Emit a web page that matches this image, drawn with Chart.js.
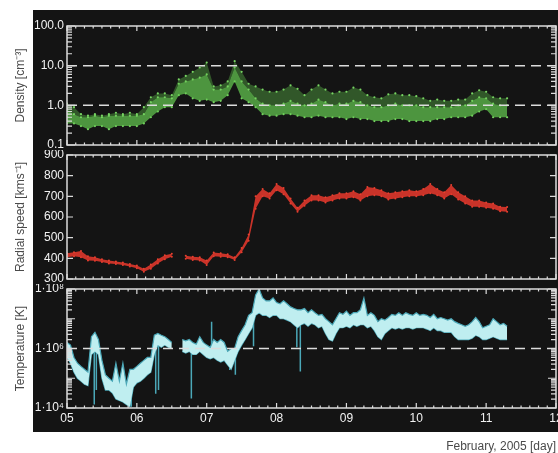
<!DOCTYPE html>
<html lang="en">
<head>
    <meta charset="UTF-8">
    <title>Solar wind, February 2005</title>
    <script src="https://cdn.jsdelivr.net/npm/chart.js"></script>
    <style>
        body {
            margin: 0;
            width: 558px;
            height: 453px;
            position: relative;
            overflow: hidden;
            background: #fff;
        }
        canvas {
            position: absolute;
            left: 0;
        }
        #densityChart { top: 0; }
        #speedChart { top: 150px; }
        #tempChart { top: 284px; }
    </style>
</head>
<body>
    <canvas id="densityChart" width="580" height="150"></canvas>
    <canvas id="speedChart" width="580" height="134"></canvas>
    <canvas id="tempChart" width="580" height="169"></canvas>

    <script>
        // days (February 2005), 0.1 day resolution
        const dayCoarse = [
            5.0, 5.1, 5.2, 5.3, 5.4, 5.5, 5.6, 5.7, 5.8, 5.9,
            6.0, 6.1, 6.2, 6.3, 6.4, 6.5, 6.6, 6.7, 6.8, 6.9,
            7.0, 7.1, 7.2, 7.3, 7.4, 7.5, 7.6, 7.7, 7.8, 7.9,
            8.0, 8.1, 8.2, 8.3, 8.4, 8.5, 8.6, 8.7, 8.8, 8.9,
            9.0, 9.1, 9.2, 9.3, 9.4, 9.5, 9.6, 9.7, 9.8, 9.9,
            10.0, 10.1, 10.2, 10.3, 10.4, 10.5, 10.6, 10.7, 10.8, 10.9,
            11.0, 11.1, 11.2, 11.3
        ];

        // density [cm^-3]: top of the sparse scatter, top of the dense core, bottom
        const densHigh = [
            1.1, 0.9, 0.6, 0.55, 0.6, 0.55, 0.6, 0.65, 0.6, 0.65,
            0.6, 0.9, 1.6, 2.0, 2.0, 1.8, 4.5, 5.5, 7.0, 9.0,
            12, 3.0, 3.2, 4.0, 13, 7.0, 3.5, 3.0, 2.5, 2.2,
            2.2, 2.5, 3.2, 2.6, 1.8, 2.5, 3.2, 2.5, 2.0, 2.2,
            2.2, 2.8, 2.5, 1.8, 1.6, 1.5, 1.9, 2.0, 1.8, 1.8,
            1.7, 1.5, 1.3, 1.4, 1.3, 1.3, 1.4, 1.4, 2.0, 2.4,
            2.2, 1.6, 1.5, 1.5
        ];
        const densCore = [
            0.8, 0.6, 0.5, 0.5, 0.55, 0.5, 0.55, 0.55, 0.55, 0.55,
            0.55, 0.6, 1.2, 1.6, 1.6, 1.5, 3.5, 4.0, 4.5, 5.0,
            6.0, 2.5, 2.5, 3.0, 9.0, 4.0, 2.5, 1.5, 1.1, 1.0,
            1.0, 1.1, 1.3, 1.1, 1.0, 1.1, 1.4, 1.2, 1.0, 1.1,
            1.1, 1.3, 1.2, 1.0, 0.9, 0.9, 1.0, 1.1, 1.0, 1.0,
            1.0, 0.9, 0.9, 0.9, 0.9, 0.9, 1.0, 1.0, 1.3, 1.6,
            1.5, 1.1, 1.0, 1.0
        ];
        const densLow = [
            0.35, 0.35, 0.3, 0.25, 0.3, 0.3, 0.25, 0.3, 0.3, 0.3,
            0.3, 0.35, 0.5, 0.7, 0.9, 0.9, 1.8, 2.0, 1.5, 1.3,
            1.4, 1.2, 1.3, 1.8, 4.0, 1.5, 1.2, 0.9, 0.6, 0.55,
            0.55, 0.6, 0.6, 0.55, 0.5, 0.5, 0.55, 0.5, 0.5, 0.5,
            0.45, 0.5, 0.45, 0.45, 0.4, 0.4, 0.4, 0.45, 0.45, 0.4,
            0.4, 0.4, 0.4, 0.45, 0.45, 0.5, 0.5, 0.5, 0.55, 0.7,
            0.8, 0.5, 0.5, 0.5
        ];

        // radial speed [km/s]
        const speedHigh = [
            425, 430, 435, 410, 405, 395, 390, 385, 380, 372,
            365, 350, 370, 395, 415, 422, null, 412, 408, 405,
            390, 428, 425, 420, 405, 450, 515, 700, 735, 715,
            760, 740, 690, 645, 680, 705, 705, 695, 705, 715,
            715, 725, 710, 745, 740, 730, 715, 720, 725, 730,
            725, 735, 760, 735, 720, 755, 720, 700, 680, 680,
            670, 665, 650, 648
        ];
        const speedLow = [
            405, 410, 405, 390, 388, 382, 375, 372, 368, 360,
            352, 335, 350, 375, 395, 408, null, 398, 392, 390,
            368, 410, 408, 405, 392, 430, 485, 640, 700, 690,
            730, 710, 665, 625, 655, 680, 680, 670, 680, 690,
            690, 695, 680, 700, 705, 700, 685, 690, 695, 700,
            700, 705, 715, 705, 690, 710, 685, 665, 650, 650,
            645, 640, 628, 625
        ];

        // days, 0.05 day resolution (temperature)
        const dayFine = [
            5.00, 5.05, 5.10, 5.15, 5.20, 5.25, 5.30, 5.35, 5.40, 5.45,
            5.50, 5.55, 5.60, 5.65, 5.70, 5.75, 5.80, 5.85, 5.90, 5.95,
            6.00, 6.05, 6.10, 6.15, 6.20, 6.25, 6.30, 6.35, 6.40, 6.45,
            6.50, 6.55, 6.60, 6.65, 6.70, 6.75, 6.80, 6.85, 6.90, 6.95,
            7.00, 7.05, 7.10, 7.15, 7.20, 7.25, 7.30, 7.35, 7.40, 7.45,
            7.50, 7.55, 7.60, 7.65, 7.70, 7.75, 7.80, 7.85, 7.90, 7.95,
            8.00, 8.05, 8.10, 8.15, 8.20, 8.25, 8.30, 8.35, 8.40, 8.45,
            8.50, 8.55, 8.60, 8.65, 8.70, 8.75, 8.80, 8.85, 8.90, 8.95,
            9.00, 9.05, 9.10, 9.15, 9.20, 9.25, 9.30, 9.35, 9.40, 9.45,
            9.50, 9.55, 9.60, 9.65, 9.70, 9.75, 9.80, 9.85, 9.90, 9.95,
            10.00, 10.05, 10.10, 10.15, 10.20, 10.25, 10.30, 10.35, 10.40, 10.45,
            10.50, 10.55, 10.60, 10.65, 10.70, 10.75, 10.80, 10.85, 10.90, 10.95,
            11.00, 11.05, 11.10, 11.15, 11.20, 11.25, 11.30
        ];

        // temperature [K], upper and lower edge of the trace
        const tempHigh = [
            1.6e6, 1.3e6, 5e5, 3.2e5, 2.5e5, 2e5, 1.6e5, 2.5e6, 3.5e6, 2e6,
            4e5, 1.3e5, 1e5, 8e4, 3.2e5, 8e4, 3.2e5, 6.3e4, 2e5, 2e5,
            2.5e5, 3.2e5, 4e5, 5e5, 5e5, 2.8e6, 3.2e6, 2.8e6, 2.5e6, 2e6,
            1.6e6, null, null, 2e6, 1.8e6, 2e6, 1.6e6, 1.4e6, 2.5e6, 1.6e6,
            1.3e6, 1.1e6, 2e6, 1.6e6, 2e6, 1.6e6, 8e5, 1e6, 1e6, 2.5e6,
            4e6, 6.3e6, 1.3e7, 1.6e7, 6.3e7, 1e8, 5e7, 4e7, 4e7, 5e7,
            3.5e7, 3.2e7, 4e7, 3.2e7, 2.5e7, 2.2e7, 2e7, 2e7, 2.2e7, 1.6e7,
            2e7, 1.6e7, 1.3e7, 1.4e7, 1e7, 8e6, 6.3e6, 1e7, 1.6e7, 1.4e7,
            1.8e7, 1.3e7, 1.6e7, 1.6e7, 2e7, 5e7, 1.3e7, 1.6e7, 1.3e7, 8e6,
            1e7, 9e6, 1.1e7, 1.4e7, 1.3e7, 1.6e7, 1.3e7, 1.6e7, 1.4e7, 1.3e7,
            1.6e7, 1.3e7, 1.4e7, 1.3e7, 1.1e7, 1.4e7, 1e7, 1.1e7, 1e7, 9e6,
            1e7, 8e6, 7e6, 6.3e6, 5.6e6, 6.3e6, 8e6, 1.1e7, 8e6, 5e6,
            5.6e6, 6.3e6, 1e7, 8e6, 6.3e6, 7e6, 5.6e6
        ];
        const tempLow = [
            5e5, 3.2e5, 1.6e5, 1e5, 8e4, 6.3e4, 5.6e4, 6.3e5, 8e5, 6.3e5,
            1e5, 4e4, 4e4, 3.2e4, 2e4, 1.8e4, 1.6e4, 1.3e4, 1.1e4, 5e4,
            7e4, 8e4, 1e5, 1.3e5, 1.6e5, 6.3e5, 1.3e6, 1.1e6, 1.3e6, 1.1e6,
            1e6, null, null, 8e5, 7e5, 8e5, 6.3e5, 6.3e5, 8e5, 6.3e5,
            5e5, 4.5e5, 5e5, 4e5, 3.5e5, 4e5, 2.8e5, 2e5, 4e5, 8e5,
            1.3e6, 2e6, 3.2e6, 5e6, 1.3e7, 1.6e7, 1.3e7, 1.3e7, 1.1e7, 1.3e7,
            1.3e7, 1e7, 1e7, 9e6, 8e6, 6.3e6, 5e6, 6.3e6, 7e6, 5.6e6,
            7e6, 6.3e6, 5e6, 5.6e6, 3.2e6, 2e6, 1.8e6, 3.2e6, 5e6, 5e6,
            5.6e6, 5e6, 6.3e6, 5.6e6, 6.3e6, 6.3e6, 5e6, 5.6e6, 4e6, 2.5e6,
            2e6, 3.2e6, 4e6, 5e6, 4.5e6, 5e6, 4.5e6, 5e6, 5e6, 4.5e6,
            5e6, 5e6, 5e6, 4.5e6, 4e6, 5e6, 4e6, 4e6, 3.5e6, 3.5e6,
            3.5e6, 2.5e6, 2e6, 2e6, 2e6, 2e6, 2.2e6, 2.8e6, 2.5e6, 2e6,
            2e6, 2.2e6, 2.5e6, 2.2e6, 2e6, 2e6, 2e6
        ];

        // single spikes in the temperature trace
        const spikeDay = [5.39, 5.42, 5.92, 6.27, 6.31, 6.78, 7.07, 7.33, 7.41, 7.67, 8.29, 8.34];
        const spikeTop = [2e6, 1.6e6, 2e5, 2e6, 2e6, 1.6e6, 8e6, 8e5, 8e5, 1.3e7, 1.6e7, 1.6e7];
        const spikeBottom = [1.3e4, 4e4, 1.1e4, 3e4, 4e4, 2.1e4, 1.3e6, 1.9e5, 1.3e5, 1.2e6, 1.1e6, 1.7e5];

        const densTicks = [0.1, 1, 10, 100];
        const speedTicks = [300, 400, 500, 600, 700, 800, 900];
        const tempTicks = [1e4, 1e6, 1e8];

        const BLACK = '#141414';
        const AXIS = '#dcdcdc';
        const FONT = 'Liberation Sans, Arial, sans-serif';
        const SUP = { '4': '⁴', '6': '⁶', '8': '⁸' };

        const pts = (xs, ys) => xs.map((x, i) => ({ x: x, y: ys[i] }));

        // inward tick marks for a log axis: decades long, 2..9 short
        function logMarks(lo, hi) {
            const out = [];
            for (let e = lo; e < hi; e++) {
                for (let m = 1; m <= 9; m++) out.push([m * Math.pow(10, e), m === 1 ? 8 : 5]);
            }
            out.push([Math.pow(10, hi), 8]);
            return out;
        }

        // black panel, frame, inward ticks and dashed reference lines
        const framePlugin = {
            id: 'frame',
            beforeDraw(chart, args, o) {
                const c = chart.ctx;
                c.save();
                c.fillStyle = BLACK;
                c.fillRect(33, o.bgTop, chart.width - 33, o.bgBottom - o.bgTop);
                c.restore();
            },
            afterDatasetsDraw(chart, args, o) {
                const c = chart.ctx;
                const a = chart.chartArea;
                const x = chart.scales.x, y = chart.scales.y;
                c.save();
                c.strokeStyle = AXIS;
                c.lineWidth = 1.5;
                c.setLineDash([10, 6]);
                (o.refLines || []).forEach(v => {
                    const py = y.getPixelForValue(v);
                    c.beginPath(); c.moveTo(a.left, py); c.lineTo(a.right, py); c.stroke();
                });
                c.setLineDash([]);
                c.strokeRect(a.left, a.top, a.right - a.left, a.bottom - a.top);
                c.lineWidth = 1.2;
                c.beginPath();
                for (let k = 0; k <= 56; k++) {
                    const px = x.getPixelForValue(5 + k / 8);
                    const len = k % 8 === 0 ? 5 : 2.5;
                    c.moveTo(px, a.top); c.lineTo(px, a.top + len);
                    c.moveTo(px, a.bottom); c.lineTo(px, a.bottom - len);
                }
                o.yMarks.forEach(([v, len]) => {
                    const py = y.getPixelForValue(v);
                    c.moveTo(a.left, py); c.lineTo(a.left + len, py);
                    c.moveTo(a.right, py); c.lineTo(a.right - len, py);
                });
                c.stroke();
                c.restore();
            }
        };

        function yAxis(type, min, max, ticks, label, fmt) {
            return {
                type: type, min: min, max: max,
                grid: { display: false, drawTicks: false }, border: { display: false },
                afterBuildTicks: s => { s.ticks = ticks.map(v => ({ value: v })); },
                afterFit: s => { s.width = 67; s.paddingTop = 0; s.paddingBottom = 0; },
                ticks: { color: '#f2f2f2', padding: 3, font: { family: FONT, size: 12 }, callback: fmt },
                title: {
                    display: true, text: label, color: '#4a4a4a',
                    font: { family: FONT, size: 12 }, padding: { top: 13, bottom: 0 }
                }
            };
        }

        function xAxis(show) {
            return {
                type: 'linear', min: 5, max: 12,
                display: show,
                grid: { display: false, drawTicks: false }, border: { display: false },
                afterFit: s => {
                    s.height = show ? 45 : 0;
                    s.paddingLeft = 0; s.paddingRight = 0;
                },
                ticks: {
                    stepSize: 1, color: '#f2f2f2', padding: 3, maxRotation: 0,
                    font: { family: FONT, size: 12 },
                    callback: v => String(v).padStart(2, '0')
                },
                title: {
                    display: true, text: 'February, 2005 [day]', align: 'end', color: '#4a4a4a',
                    font: { family: FONT, size: 12, lineHeight: 1 }, padding: { top: 0, bottom: 0 }
                }
            };
        }

        function options(y, showX, padding, frame) {
            return {
                responsive: false, animation: false, devicePixelRatio: 1, events: [],
                layout: { padding: padding },
                plugins: { legend: { display: false }, tooltip: { enabled: false }, frame: frame },
                scales: { x: xAxis(showX), y: y }
            };
        }

        // a filled band between consecutive edge series
        function band(xs, edges, fills, edge, edgeWidth, dot) {
            return edges.map((ys, i) => ({
                data: pts(xs, ys),
                fill: i < fills.length ? '+1' : false,
                backgroundColor: fills[i],
                borderColor: edge, borderWidth: edgeWidth, pointRadius: dot,
                pointBackgroundColor: edge, pointBorderWidth: 0, spanGaps: false
            }));
        }

        new Chart(document.getElementById('densityChart'), {
            type: 'line',
            data: {
                datasets: band(dayCoarse, [densHigh, densCore, densLow],
                    ['rgba(96,196,76,0.38)', 'rgba(100,200,80,0.72)'], '#78d663', 0, 1.1)
            },
            options: options(
                yAxis('logarithmic', 0.1, 100, densTicks, 'Density [cm⁻³]', v => v.toFixed(1)),
                false, { left: 0, right: 24, top: 26, bottom: 5 },
                { bgTop: 10, bgBottom: 150, refLines: [1, 10], yMarks: logMarks(-1, 2) }
            ),
            plugins: [framePlugin]
        });

        new Chart(document.getElementById('speedChart'), {
            type: 'line',
            data: {
                datasets: band(dayCoarse, [speedHigh, speedLow], ['rgba(226,56,44,0.88)'], '#e8402f', 0, 1)
            },
            options: options(
                yAxis('linear', 300, 900, speedTicks, 'Radial speed [kms⁻¹]', v => String(v)),
                false, { left: 0, right: 24, top: 5, bottom: 5 },
                { bgTop: 0, bgBottom: 134, refLines: [], yMarks: speedTicks.map(v => [v, 6]) }
            ),
            plugins: [framePlugin]
        });

        const spikes = spikeDay.flatMap((d, i) => [
            { x: d, y: spikeTop[i] }, { x: d, y: spikeBottom[i] }, { x: d, y: null }
        ]);

        new Chart(document.getElementById('tempChart'), {
            type: 'line',
            data: {
                datasets: band(dayFine, [tempHigh, tempLow], ['#bfeef0'], '#4ba8b8', 1.2, 0).concat([{
                    data: spikes, borderColor: '#4ba8b8', borderWidth: 1.5,
                    pointRadius: 0, fill: false, spanGaps: false
                }])
            },
            options: options(
                yAxis('logarithmic', 1e4, 1e8, tempTicks, 'Temperature [K]',
                    v => '1·10' + SUP[String(Math.round(Math.log10(v)))]),
                true, { left: 0, right: 24, top: 5, bottom: 0 },
                { bgTop: 0, bgBottom: 148, refLines: [1e6], yMarks: logMarks(4, 8) }
            ),
            plugins: [framePlugin]
        });
    </script>
</body>
</html>
